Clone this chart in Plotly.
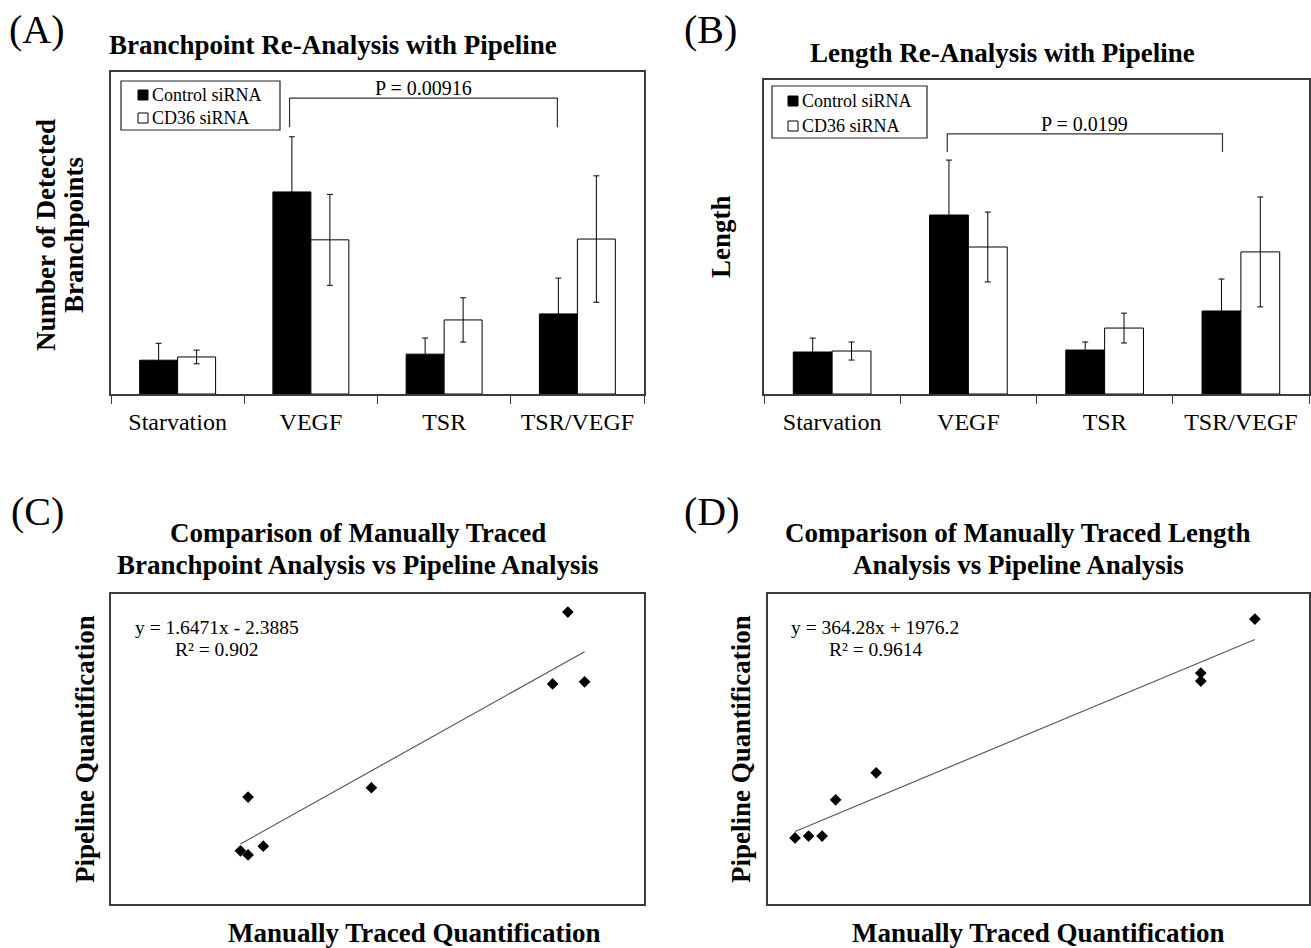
import plotly.graph_objects as go

# ---------------- data ----------------
categories = ["Starvation", "VEGF", "TSR", "TSR/VEGF"]
series_names = ["Control siRNA", "CD36 siRNA"]

# (A) branchpoints detected by pipeline
a_control = [8.4, 50.2, 9.9, 19.9]
a_control_err = [4.2, 13.7, 4.0, 8.9]
a_cd36 = [9.2, 38.3, 18.4, 38.5]
a_cd36_err = [1.7, 11.3, 5.5, 15.7]
a_pvalue = "P = 0.00916"

# (B) length detected by pipeline
b_control = [2140, 9120, 2240, 4230]
b_control_err = [710, 2800, 410, 1630]
b_cd36 = [2190, 7490, 3360, 7240]
b_cd36_err = [460, 1780, 760, 2800]
b_pvalue = "P = 0.0199"

# (C) branchpoints: manual vs pipeline
c_manual = [30.0, 29.0, 31.1, 17.1, 9.0, 8.5, 9.0, 10.0]
c_pipeline = [56.5, 42.6, 43.0, 22.5, 20.7, 10.3, 9.5, 11.2]
c_slope, c_intercept, c_r2 = 1.6471, -2.3885, 0.902

# (D) length: manual vs pipeline
d_manual = [18.0, 16.0, 16.0, 4.0, 2.5, 1.0, 1.5, 2.0]
d_pipeline = [9190, 7450, 7190, 4230, 3360, 2130, 2190, 2190]
d_slope, d_intercept, d_r2 = 364.28, 1976.2, 0.9614

# ---------------- layout helpers ----------------
W, H = 1311, 948
FONT = "Liberation Serif, Times New Roman, serif"
BOX = "#3c3c3c"
COLORS = ["black", "white"]


def px(x):
    return x / W


def py(y):
    return 1 - y / H


fig = go.Figure()

bar_common = dict(marker_line_color="black", marker_line_width=1, showlegend=False)
err_common = dict(type="data", color="black", thickness=1, width=3, visible=True)

for ax, vals, errs in [("", [a_control, a_cd36], [a_control_err, a_cd36_err]),
                       ("2", [b_control, b_cd36], [b_control_err, b_cd36_err])]:
    for name, color, v, e in zip(series_names, COLORS, vals, errs):
        fig.add_trace(go.Bar(x=categories, y=v, name=name, marker_color=color,
                             error_y=dict(array=e, **err_common),
                             xaxis="x" + ax, yaxis="y" + ax, **bar_common))

# (C)
fig.add_trace(go.Scatter(x=c_manual, y=c_pipeline, mode="markers",
                         marker=dict(symbol="diamond", size=9, color="black"),
                         xaxis="x3", yaxis="y3", showlegend=False))
cx = [min(c_manual), max(c_manual)]
fig.add_trace(go.Scatter(x=cx, y=[c_slope * v + c_intercept for v in cx], mode="lines",
                         line=dict(color="#5a5a5a", width=1.2),
                         xaxis="x3", yaxis="y3", showlegend=False))
# (D)
fig.add_trace(go.Scatter(x=d_manual, y=d_pipeline, mode="markers",
                         marker=dict(symbol="diamond", size=9, color="black"),
                         xaxis="x4", yaxis="y4", showlegend=False))
dx = [min(d_manual), max(d_manual)]
fig.add_trace(go.Scatter(x=dx, y=[d_slope * v + d_intercept for v in dx], mode="lines",
                         line=dict(color="#5a5a5a", width=1.2),
                         xaxis="x4", yaxis="y4", showlegend=False))

bar_x = dict(showline=True, mirror=True, linecolor=BOX, linewidth=1.5,
             ticks="outside", tickson="boundaries", ticklen=8, tickcolor=BOX, tickwidth=1.2,
             tickfont=dict(family=FONT, size=24, color="black"), ticklabelstandoff=5,
             showgrid=False, zeroline=False, fixedrange=True)
bar_y = dict(showline=True, mirror=True, linecolor=BOX, linewidth=1.5,
             showticklabels=False, ticks="", showgrid=False, zeroline=False)
sc_ax = dict(showline=True, mirror=True, linecolor=BOX, linewidth=1.5,
             showticklabels=False, ticks="", showgrid=False, zeroline=False)

fig.update_layout(
    width=W, height=H, margin=dict(l=0, r=0, t=0, b=0),
    paper_bgcolor="white", plot_bgcolor="white",
    barmode="group", bargap=0.43, bargroupgap=0,
    font=dict(family=FONT, color="black"),
    showlegend=False,
    xaxis=dict(domain=[px(111), px(644)], anchor="y", **bar_x),
    yaxis=dict(domain=[py(394), py(72)], anchor="x", range=[0, 80], **bar_y),
    xaxis2=dict(domain=[px(764), px(1309)], anchor="y2", **bar_x),
    yaxis2=dict(domain=[py(394), py(80)], anchor="x2", range=[0, 16000], **bar_y),
    xaxis3=dict(domain=[px(111), px(644)], anchor="y3", range=[0, 35], **sc_ax),
    yaxis3=dict(domain=[py(904), py(594)], anchor="x3", range=[0, 60], **sc_ax),
    xaxis4=dict(domain=[px(768), px(1309)], anchor="y4", range=[0, 20], **sc_ax),
    yaxis4=dict(domain=[py(904), py(594)], anchor="x4", range=[0, 10000], **sc_ax),
)


def ann(x, y, text, size, bold=False, angle=0, xanchor="center", align="center"):
    fig.add_annotation(xref="paper", yref="paper", x=px(x), y=py(y),
                       text=f"<b>{text}</b>" if bold else text, showarrow=False,
                       textangle=angle, xanchor=xanchor, yanchor="middle", align=align,
                       font=dict(family=FONT, size=size, color="black"))


# legends (boxed, Excel style)
def legend_box(x0, y0, x1, y1, sq_x, text_x, rows):
    fig.add_shape(type="rect", xref="paper", yref="paper",
                  x0=px(x0), x1=px(x1), y0=py(y1), y1=py(y0),
                  line=dict(color="#222", width=1.2), fillcolor="white")
    for (name, color), yc in zip(zip(series_names, COLORS), rows):
        fig.add_shape(type="rect", xref="paper", yref="paper",
                      x0=px(sq_x), x1=px(sq_x + 10), y0=py(yc + 5), y1=py(yc - 5),
                      line=dict(color="black", width=1), fillcolor=color)
        ann(text_x, yc, name, 18, xanchor="left")


legend_box(121, 81, 280, 130, 138, 150, [95, 118])
legend_box(772, 86, 927, 138, 788, 800, [101, 126])


# significance brackets (data coordinates on category axes)
def bracket(xref, yref, x0, x1, ytop, ybot, text, ytext):
    fig.add_shape(type="path", xref=xref, yref=yref,
                  path=f"M {x0} {ybot} L {x0} {ytop} L {x1} {ytop} L {x1} {ybot}",
                  line=dict(color="#333", width=1.2))
    fig.add_annotation(xref=xref, yref=yref, x=(x0 + x1) / 2, y=ytext, text=text,
                       showarrow=False, yanchor="middle",
                       font=dict(family=FONT, size=20, color="black"))


vi = categories.index("VEGF")
ti = categories.index("TSR/VEGF")
bracket("x", "y", vi - 0.16, ti - 0.15, 73.5, 66.3, a_pvalue, 76.0)
bracket("x2", "y2", vi - 0.155, ti - 0.135, 13250, 12330, b_pvalue, 13750)

# panel letters
ann(37, 30, "(A)", 40)
ann(710, 30, "(B)", 40)
ann(37, 512, "(C)", 40)
ann(712, 512, "(D)", 40)

# titles
TS = 27
ann(333, 45, "Branchpoint Re-Analysis with Pipeline", TS, bold=True)
ann(1002, 53, "Length Re-Analysis with Pipeline", TS, bold=True)
ann(358, 533, "Comparison of Manually Traced", TS, bold=True)
ann(358, 565, "Branchpoint Analysis vs Pipeline Analysis", TS, bold=True)
ann(1018, 533, "Comparison of Manually Traced Length", TS, bold=True)
ann(1018, 565, "Analysis vs Pipeline Analysis", TS, bold=True)

# axis titles
ann(46, 235, "Number of Detected", TS, bold=True, angle=-90)
ann(74, 235, "Branchpoints", TS, bold=True, angle=-90)
ann(721, 237, "Length", TS, bold=True, angle=-90)
ann(85, 749, "Pipeline Quantification", TS, bold=True, angle=-90)
ann(741, 749, "Pipeline Quantification", TS, bold=True, angle=-90)
ann(414, 933, "Manually Traced Quantification", TS, bold=True)
ann(1038, 933, "Manually Traced Quantification", TS, bold=True)

# trendline equations
ann(133, 627, f"y = {c_slope}x - {abs(c_intercept)}", 19.5, xanchor="left")
ann(173, 649, f"R² = {c_r2}", 19.5, xanchor="left")
ann(789, 627, f"y = {d_slope}x + {d_intercept}", 19.5, xanchor="left")
ann(827, 649, f"R² = {d_r2}", 19.5, xanchor="left")

fig.write_html("out.html", config={"displayModeBar": False},
               post_script="document.body.style.margin='0';")
